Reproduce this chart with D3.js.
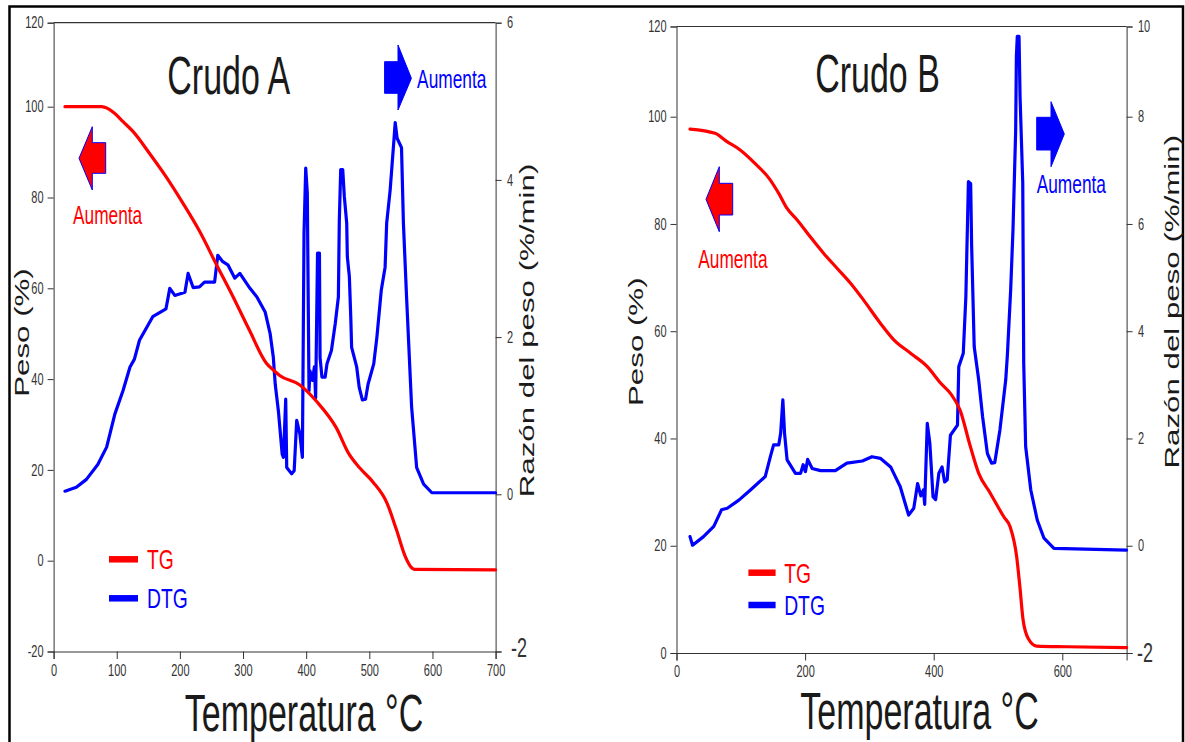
<!DOCTYPE html>
<html>
<head>
<meta charset="utf-8">
<script src="https://cdn.jsdelivr.net/npm/d3@7"></script>
<style>
  html, body { margin: 0; padding: 0; background: #fff; }
  svg { display: block; font-family: "Liberation Sans", Arial, sans-serif; }
</style>
</head>
<body>
<div id="chart"></div>
<script>
// ---- Crudo A ----
const tgA_T = [18, 76, 97, 110, 126, 152, 178, 205, 231, 258, 284, 310, 337, 348, 358, 390, 417, 448, 467, 485, 506, 528, 543, 557, 565, 572, 700];
const tgA_P = [100, 100, 98.5, 96.7, 94.5, 89.7, 84.6, 78.7, 72.6, 65.2, 58.2, 50.8, 43.5, 42, 40.8, 38.7, 35, 29.2, 23.7, 20.4, 17.3, 12.7, 6.8, 0.9, -1.2, -1.9, -2.0];
const dtgA_T = [18, 36, 52, 70, 84, 97, 110, 121, 128, 136, 157, 178, 184, 192, 208, 213, 221, 231, 239, 255,
  260, 268, 276, 287, 295, 311, 322, 335, 343, 348, 351, 356, 362, 364, 367.6, 369.2, 377, 381, 385, 390,
  394, 396.6, 399.3, 401.8, 404.5, 406, 410, 413, 415, 418, 421, 422, 425, 430, 433, 440, 446, 451, 452.5, 454.7,
  457.9, 460.4, 464.2, 465.2, 468.4, 470.6, 472, 480, 484, 489, 494, 498, 507, 512, 519, 525, 527.5, 533, 539, 541,
  544, 551, 554, 559, 567, 575, 586, 599, 700];
const dtgA_D = [0.04, 0.09, 0.19, 0.38, 0.6, 1.02, 1.32, 1.62, 1.72, 1.96, 2.26, 2.36, 2.62, 2.53, 2.57, 2.81, 2.63, 2.64, 2.7, 2.7,
  3.04, 2.96, 2.92, 2.75, 2.81, 2.62, 2.51, 2.32, 2.04, 1.74, 1.4, 1.06, 0.51, 0.47, 1.21, 0.34, 0.26, 0.3, 0.94, 0.77,
  0.47, 3.32, 4.15, 3.83, 1.32, 1.57, 1.45, 1.62, 1.23, 3.07, 3.07, 1.74, 1.49, 1.49, 1.66, 1.83, 2.17, 2.51, 3.49, 4.13,
  4.13, 3.79, 3.45, 3.02, 2.77, 2.26, 1.87, 1.62, 1.36, 1.2, 1.21, 1.4, 1.66, 2.0, 2.6, 2.89, 3.45, 3.87, 4.51, 4.73,
  4.53, 4.41, 3.45, 2.51, 1.11, 0.34, 0.13, 0.02, 0.02];
const xTicksA = [0, 100, 200, 300, 400, 500, 600, 700];
const pesoTicksA = [-20, 0, 20, 40, 60, 80, 100, 120];
const razonTicksA = [-2, 0, 2, 4, 6];

// ---- Crudo B ----
const tgB_T = [21, 60, 78, 99, 122, 144, 159, 172, 188, 208, 229, 250, 271, 291, 317, 338, 364, 390, 411, 426, 441, 457, 470, 488, 509, 519, 529, 534, 539, 547, 560, 607, 700];
const tgB_P = [97.7, 96.9, 95.4, 93.8, 91.3, 88.5, 85.7, 82.9, 80.7, 77.6, 74.5, 71.7, 68.9, 65.8, 61.5, 58.4, 55.9, 53.4, 50.3, 48.4, 45.3, 38.5, 33.5, 29.8, 25.4, 23.5, 18, 12.4, 6.2, 2.7, 1.3, 1.17, 1.0];
const dtgB_T = [21, 25, 42, 58, 70, 79, 97, 115, 138, 146, 151, 159, 162, 165.4, 168, 172, 185, 193, 197, 200.5,
  204, 211, 224, 247, 265, 289, 304, 317, 333, 348, 361, 369, 375, 380, 384, 386, 390, 394, 399, 403,
  408, 413, 417, 421, 426, 437, 439, 446, 450, 454, 457.5, 459, 463, 470, 476, 483.5, 490, 495, 503, 512,
  514.6, 519.7, 523.3, 527.5, 528.6, 530, 532.7, 534.3, 538.5, 540, 543, 551, 561, 571.5, 587, 700];
const dtgB_D = [0.17, 0.01, 0.17, 0.36, 0.67, 0.70, 0.85, 1.04, 1.29, 1.66, 1.88, 1.88, 2.1, 2.72, 2.1, 1.6, 1.35, 1.35, 1.51, 1.38,
  1.61, 1.44, 1.4, 1.4, 1.54, 1.58, 1.66, 1.63, 1.47, 1.1, 0.57, 0.7, 1.16, 0.93, 1.04, 0.77, 2.28, 1.91, 0.91, 0.86,
  1.35, 1.47, 1.19, 1.23, 2.06, 2.25, 3.34, 3.59, 4.64, 6.79, 6.75, 5.6, 3.71, 3.09, 2.41, 1.72, 1.54, 1.55, 2.16, 3.09,
  3.56, 4.77, 5.89, 7.75, 9.34, 9.78, 9.78, 8.45, 6.76, 3.4, 1.85, 1.04, 0.48, 0.14, -0.05, -0.08];
const xTicksB = [0, 200, 400, 600];
const pesoTicksB = [0, 20, 40, 60, 80, 100, 120];
const razonTicksB = [-2, 0, 2, 4, 6, 8, 10];

const RED = "#ff0000", BLUE = "#0000ff", INK = "#1a1a1a", AXIS = "#333";

const svg = d3.select("#chart").append("svg")
  .attr("width", 1185)
  .attr("height", 742);

// outer frame
svg.append("rect")
  .attr("x", 9.5).attr("y", 6.5)
  .attr("width", 1173.5).attr("height", 800)
  .attr("fill", "none").attr("stroke", "#000").attr("stroke-width", 2.5);

// text is vertically stretched in the reference, so scale it
function addText(g, str, o) {
  return g.append("text")
    .attr("transform", `translate(${o.x},${o.y}) scale(1,${o.k})${o.rot ? " rotate(-90)" : ""}`)
    .attr("text-anchor", o.anchor || "start")
    .attr("font-size", o.size)
    .attr("fill", o.color || INK)
    .text(str);
}

function arrow(g, a, fill) {
  const pts = [[a.tail, a.bodyTop], [a.neck, a.bodyTop], [a.neck, a.headTop], a.tip,
    [a.neck, a.headBot], [a.neck, a.bodyBot], [a.tail, a.bodyBot]];
  g.append("polygon")
    .attr("points", pts.map(p => p.join(",")).join(" "))
    .attr("fill", fill)
    .attr("stroke", BLUE)
    .attr("stroke-width", 1);
}

function styleTicks(sel, k) {
  sel.attr("font-family", null).attr("font-size", null);
  sel.select(".domain").attr("stroke", AXIS);
  sel.selectAll(".tick line").attr("stroke", AXIS);
  sel.selectAll(".tick text")
    .attr("fill", AXIS)
    .attr("font-size", 11)
    .attr("transform", `scale(1,${k})`);
}

function drawPanel(p) {
  const g = svg.append("g");
  const x = d3.scaleLinear().domain([0, 700]).range(p.xRange);
  const yL = d3.scaleLinear().domain(p.yLDomain).range(p.yLRange);
  const yR = d3.scaleLinear().domain(p.yRDomain).range(p.yRRange);
  const [x0, x1] = p.xRange;
  const yBot = p.yLRange[0], yTop = p.yLRange[p.yLRange.length - 1];

  // top frame line
  g.append("line")
    .attr("x1", x0).attr("x2", x1).attr("y1", yTop).attr("y2", yTop)
    .attr("stroke", AXIS).attr("stroke-width", 1.2);

  const ax = g.append("g").attr("transform", `translate(0,${yBot})`)
    .call(d3.axisBottom(x).tickValues(p.xTicks).tickSize(7.5).tickSizeOuter(7.5).tickPadding(1.5).tickFormat(String));
  styleTicks(ax, 1.45);

  const al = g.append("g").attr("transform", `translate(${x0},0)`)
    .call(d3.axisLeft(yL).tickValues(p.yLTicks).tickSize(6).tickSizeOuter(6).tickPadding(4).tickFormat(String));
  styleTicks(al, 1.45);

  const ar = g.append("g").attr("transform", `translate(${x1},0)`)
    .call(d3.axisRight(yR).tickValues(p.yRTicks).tickSize(6).tickSizeOuter(6).tickPadding(5.4).tickFormat(String));
  styleTicks(ar, 1.45);
  ar.selectAll(".tick text").filter(d => d === -2)
    .attr("font-size", 18)
    .attr("transform", `translate(${p.minus2[0]},${p.minus2[1]}) scale(1,1.5)`);

  // curves
  const lineDTG = d3.line().x(d => x(d[0])).y(d => yR(d[1]));
  const lineTG = d3.line().x(d => x(d[0])).y(d => yL(d[1])).curve(d3.curveMonotoneX);
  g.append("path")
    .datum(d3.zip(p.dtgT, p.dtgD))
    .attr("d", lineDTG)
    .attr("fill", "none").attr("stroke", BLUE).attr("stroke-width", 3.2)
    .attr("stroke-linejoin", "round").attr("stroke-linecap", "round");
  g.append("path")
    .datum(d3.zip(p.tgT, p.tgP))
    .attr("d", lineTG)
    .attr("fill", "none").attr("stroke", RED).attr("stroke-width", 3.2)
    .attr("stroke-linejoin", "round").attr("stroke-linecap", "round");

  // legend
  const L = p.legend;
  [[L.y1, RED, "TG"], [L.y2, BLUE, "DTG"]].forEach(([yy, c, t]) => {
    g.append("line").attr("x1", L.x1).attr("x2", L.x2).attr("y1", yy).attr("y2", yy)
      .attr("stroke", c).attr("stroke-width", 6.5);
    addText(g, t, { x: L.tx, y: yy + 10, k: 1.45, size: 19.3, color: c });
  });

  // arrows + notes
  arrow(g, p.redArrow, RED);
  arrow(g, p.blueArrow, BLUE);
  addText(g, "Aumenta", { x: p.redNote[0], y: p.redNote[1], k: 1.5, size: 17.3, color: RED });
  addText(g, "Aumenta", { x: p.blueNote[0], y: p.blueNote[1], k: 1.5, size: 17.3, color: BLUE });

  // titles
  addText(g, p.title, { x: p.titlePos[0], y: p.titlePos[1], k: 1.58, size: 34, anchor: "middle" });
  addText(g, "Temperatura °C", { x: p.xTitle[0], y: p.xTitle[1], k: 1.5, size: 34, anchor: "middle" });
  addText(g, "Peso (%)", { x: p.yLTitle[0], y: p.yLTitle[1], k: 1.49, size: 21, anchor: "middle", rot: true });
  addText(g, "Razón del peso (%/min)", { x: p.yRTitle[0], y: p.yRTitle[1], k: 1.49, size: 21, anchor: "middle", rot: true });
}

drawPanel({
  title: "Crudo A",
  xRange: [53.6, 495.6],
  yLDomain: [-20, 100, 120], yLRange: [651.5, 106.7, 22.7],
  yRDomain: [-2, 6], yRRange: [651.5, 22.7],
  xTicks: xTicksA, yLTicks: pesoTicksA, yRTicks: razonTicksA,
  tgT: tgA_T, tgP: tgA_P, dtgT: dtgA_T, dtgD: dtgA_D,
  minus2: [4, -3.5],
  titlePos: [228.7, 93.5],
  xTitle: [304, 731],
  yLTitle: [28.7, 332.5],
  yRTitle: [534, 330.5],
  legend: { x1: 109, x2: 138, y1: 559.3, y2: 598.3, tx: 147 },
  redArrow: { tail: 105.7, neck: 92.3, tip: [79, 158.3], bodyTop: 142.7, bodyBot: 173.3, headTop: 126.7, headBot: 190 },
  blueArrow: { tail: 384.6, neck: 398, tip: [411.4, 78.3], bodyTop: 61.7, bodyBot: 93.3, headTop: 45, headBot: 110 },
  redNote: [73, 223.5],
  blueNote: [417.1, 88]
});

drawPanel({
  title: "Crudo B",
  xRange: [676.5, 1126.6],
  yLDomain: [0, 100, 120], yLRange: [653, 116.7, 26.5],
  yRDomain: [-2, 8, 10], yRRange: [653, 116.7, 26.5],
  xTicks: xTicksB, yLTicks: pesoTicksB, yRTicks: razonTicksB,
  tgT: tgB_T, tgP: tgB_P, dtgT: dtgB_T, dtgD: dtgB_D,
  minus2: [-1, 0],
  titlePos: [877.5, 91.5],
  xTitle: [919.5, 728.5],
  yLTitle: [643, 341.7],
  yRTitle: [1179, 301.7],
  legend: { x1: 748.4, x2: 775.6, y1: 572.7, y2: 605, tx: 784.2 },
  redArrow: { tail: 732.7, neck: 719.3, tip: [706, 199.3], bodyTop: 183.3, bodyBot: 215, headTop: 166.7, headBot: 231.7 },
  blueArrow: { tail: 1036.7, neck: 1051, tip: [1064.3, 134], bodyTop: 117.3, bodyBot: 150, headTop: 101.7, headBot: 166.7 },
  redNote: [698.3, 268],
  blueNote: [1036.7, 192.5]
});
</script>
</body>
</html>
